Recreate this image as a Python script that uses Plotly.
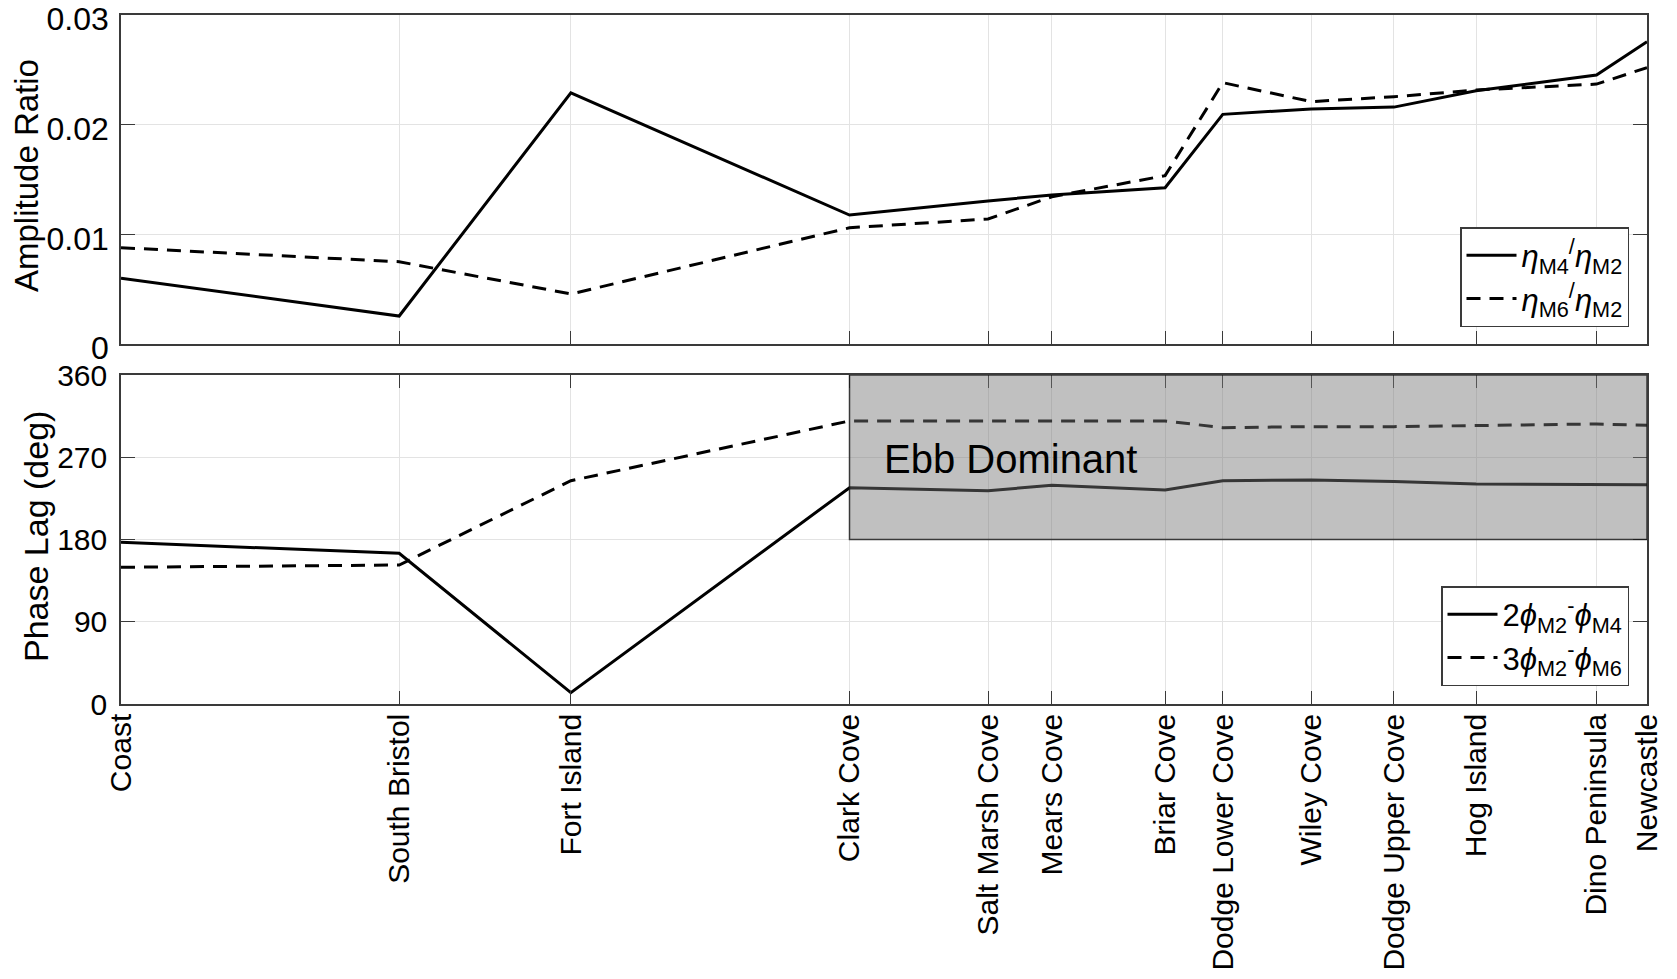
import plotly.graph_objects as go

# ---------------- data ----------------
stations = ["Coast", "South Bristol", "Fort Island", "Clark Cove", "Salt Marsh Cove",
            "Mears Cove", "Briar Cove", "Dodge Lower Cove", "Wiley Cove",
            "Dodge Upper Cove", "Hog Island", "Dino Peninsula", "Newcastle"]
# relative along-channel position (0 = Coast, 100 = Newcastle)
position = [0, 18.23, 29.48, 47.74, 56.82, 61.0, 68.42, 72.2, 77.99, 83.42, 88.8, 96.69, 100]

amp_m4_m2 = [0.0060, 0.00255, 0.0229, 0.01176, 0.01304, 0.01359, 0.01425, 0.02094,
             0.02143, 0.0216, 0.0231, 0.02453, 0.02757]
amp_m6_m2 = [0.00878, 0.0075, 0.00456, 0.0106, 0.0114, 0.01343, 0.01535, 0.02383,
             0.0221, 0.02255, 0.02316, 0.0237, 0.0252]

phase_2m2_m4 = [176.9, 164.9, 12.4, 236.7, 233.4, 239.3, 234.2, 244.3, 245.1, 243.6,
                240.7, 240.3, 240.0]
phase_3m2_m6 = [149.6, 152.1, 244.3, 309.7, 309.7, 309.7, 309.7, 302.4, 303.5, 303.5,
                304.6, 306.4, 305.0]

amp_ticks = [0, 0.01, 0.02, 0.03]
amp_ticktext = ["0", "0.01", "0.02", "0.03"]
phase_ticks = [0, 90, 180, 270, 360]

ebb_start_station = "Clark Cove"
ebb_phase_range = [180, 360]

# ---------------- figure ----------------
W, H = 1677, 979
OFF = 8  # page body margin of the html page
FONT = "Liberation Sans, Arial, Helvetica, sans-serif"
AX = "#3a3a3a"
GRID = "#e3e3e3"


def px_x(p):
    return (p - OFF) / W


def px_y(p):
    return 1 - (p - OFF) / H


fig = go.Figure()

fig.add_trace(go.Scatter(x=position, y=amp_m4_m2, mode="lines",
                         line=dict(color="black", width=3),
                         name="<i>η</i><sub>M4</sub><sup>/</sup><i>η</i><sub>M2</sub>",
                         xaxis="x", yaxis="y", legend="legend"))
fig.add_trace(go.Scatter(x=position, y=amp_m6_m2, mode="lines",
                         line=dict(color="black", width=3, dash="14px,9px"),
                         name="<i>η</i><sub>M6</sub><sup>/</sup><i>η</i><sub>M2</sub>",
                         xaxis="x", yaxis="y", legend="legend"))
fig.add_trace(go.Scatter(x=position, y=phase_2m2_m4, mode="lines",
                         line=dict(color="black", width=3),
                         name="2<i>ϕ</i><sub>M2</sub><sup>-</sup><i>ϕ</i><sub>M4</sub>",
                         xaxis="x2", yaxis="y2", legend="legend2"))
fig.add_trace(go.Scatter(x=position, y=phase_3m2_m6, mode="lines",
                         line=dict(color="black", width=3, dash="14px,9px"),
                         name="3<i>ϕ</i><sub>M2</sub><sup>-</sup><i>ϕ</i><sub>M6</sub>",
                         xaxis="x2", yaxis="y2", legend="legend2"))

xdom = [px_x(121), px_x(1647)]
top_dom = [px_y(344), px_y(15)]
bot_dom = [px_y(704), px_y(375)]

common_x = dict(range=[position[0], position[-1]], tickvals=position, ticktext=stations,
                showgrid=True, gridcolor=GRID, gridwidth=1, ticks="inside", ticklen=13,
                tickcolor=AX, tickwidth=1.2, showline=True, linecolor=AX, linewidth=1.5,
                zeroline=False, domain=xdom, automargin=False)

fig.update_layout(
    template="none",
    width=W, height=H,
    margin=dict(l=0, r=0, t=0, b=0, autoexpand=False),
    paper_bgcolor="white", plot_bgcolor="white",
    font=dict(family=FONT, color="black"),
    showlegend=True,
    xaxis=dict(**common_x, anchor="y", showticklabels=False, mirror=True),
    xaxis2=dict(**common_x, anchor="y2", showticklabels=True, mirror="ticks",
                tickangle=-90, tickfont=dict(size=30, family=FONT, color="black"),
                ticklabelstandoff=-4),
    yaxis=dict(domain=top_dom, anchor="x", range=[0, 0.03], tickvals=amp_ticks,
               ticktext=amp_ticktext, showgrid=True, gridcolor=GRID, ticks="inside",
               ticklen=14, tickcolor=AX, tickwidth=1.2, showline=True, linecolor=AX,
               linewidth=1.5, mirror="ticks", zeroline=False, automargin=False,
               ticklabeloverflow="allow", ticklabelshift=4,
               tickfont=dict(size=32, family=FONT, color="black"), ticklabelstandoff=4),
    yaxis2=dict(domain=bot_dom, anchor="x2", range=[0, 360], tickvals=phase_ticks,
                showgrid=True, gridcolor=GRID, ticks="inside", ticklen=14, tickcolor=AX,
                tickwidth=1.2, showline=True, linecolor=AX, linewidth=1.5, mirror="ticks",
                zeroline=False, automargin=False, ticklabeloverflow="allow",
                tickfont=dict(size=30, family=FONT, color="black"), ticklabelstandoff=6),
    legend=dict(x=px_x(1629), y=px_y(227), xanchor="right", yanchor="top",
                bgcolor="white", bordercolor=AX, borderwidth=1.5,
                font=dict(size=31, family=FONT, color="black"),
                itemwidth=50, tracegroupgap=0),
    legend2=dict(x=px_x(1629), y=px_y(586), xanchor="right", yanchor="top",
                 bgcolor="white", bordercolor=AX, borderwidth=1.5,
                 font=dict(size=31, family=FONT, color="black"),
                 itemwidth=50, tracegroupgap=0),
)

# axis titles as rotated text
fig.add_annotation(xref="paper", yref="paper", x=px_x(27), y=px_y(176),
                   text="Amplitude Ratio", textangle=-90, showarrow=False,
                   xanchor="center", yanchor="middle",
                   font=dict(size=33, family=FONT, color="black"))
fig.add_annotation(xref="paper", yref="paper", x=px_x(36), y=px_y(537),
                   text="Phase Lag (deg)", textangle=-90, showarrow=False,
                   xanchor="center", yanchor="middle",
                   font=dict(size=34, family=FONT, color="black"))

# Ebb dominant shaded region (semi-transparent, drawn over the lines)
x0 = position[stations.index(ebb_start_station)]
fig.add_shape(type="rect", xref="x2", yref="y2",
              x0=x0, x1=position[-1], y0=ebb_phase_range[0], y1=ebb_phase_range[1],
              fillcolor="rgba(118,118,118,0.46)",
              line=dict(color="rgba(20,20,20,0.8)", width=1.5), layer="above")

fig.add_annotation(xref="x2", yref="y2", x=49.9, y=268, text="Ebb Dominant",
                   showarrow=False, xanchor="left", yanchor="middle",
                   font=dict(size=40, family=FONT, color="black"))

fig.write_html("out.html")
